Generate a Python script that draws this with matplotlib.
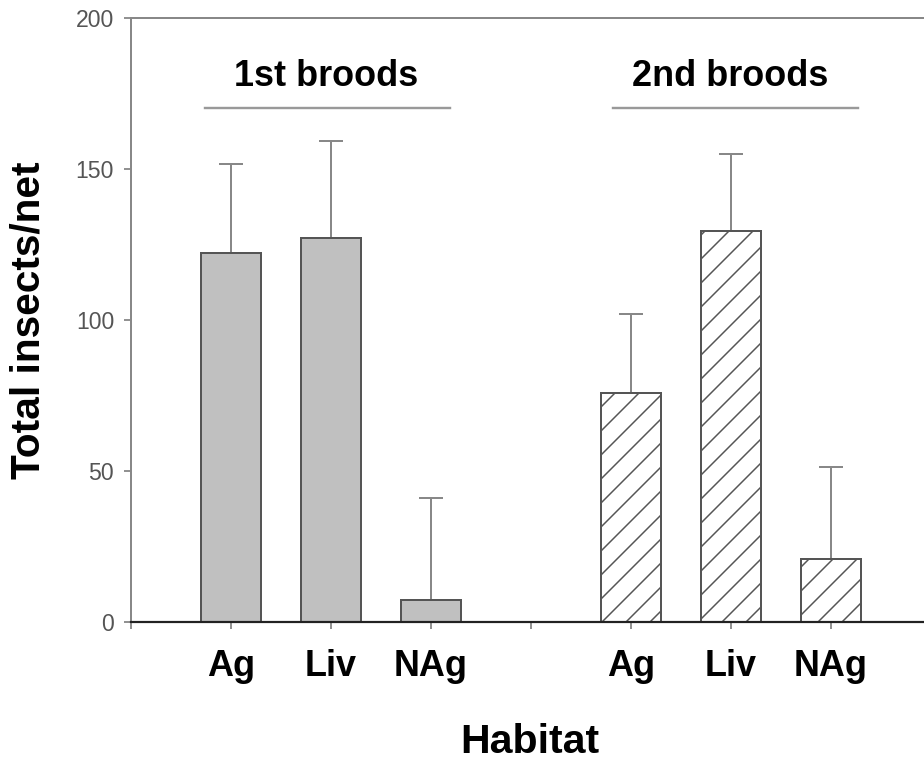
import matplotlib
matplotlib.use("Agg")
import matplotlib.pyplot as plt

# dados
habitats = ["Ag", "Liv", "NAg"]
broods = ["1st broods", "2nd broods"]
media_1 = [122.3, 127.2, 7.3]
erro_1 = [29.4, 32.0, 33.7]
media_2 = [75.7, 129.5, 20.8]
erro_2 = [26.3, 25.5, 30.6]
pos_1 = [1, 2, 3]
pos_2 = [5, 6, 7]

plt.rcParams["font.family"] = ["Liberation Sans", "DejaVu Sans"]
plt.rcParams["hatch.linewidth"] = 0.75

DPI = 144
fig = plt.figure(figsize=(924 / DPI, 763 / DPI), dpi=DPI)
ax = fig.add_axes([131 / 924, 141 / 763, 800 / 924, 604 / 763])

ec = "#555555"
ax.errorbar(pos_1, media_1, yerr=[[0] * 3, erro_1], fmt="none", ecolor="#888888",
            elinewidth=1.0, capsize=6, capthick=1.0, zorder=1)
ax.errorbar(pos_2, media_2, yerr=[[0] * 3, erro_2], fmt="none", ecolor="#888888",
            elinewidth=1.0, capsize=6, capthick=1.0, zorder=1)
ax.bar(pos_1, media_1, width=0.6, color="#c0c0c0", edgecolor=ec, lw=1.0, zorder=2)
ax.bar(pos_2, media_2, width=0.6, color="white", edgecolor=ec, lw=1.0, hatch="//", zorder=2)

# titulos dos grupos + traco
for txt, xc, (x0, x1) in [(broods[0], 1.95, (0.74, 3.19)), (broods[1], 5.99, (4.82, 7.27))]:
    ax.text(xc, 180.5, txt, ha="center", va="center", fontsize=18, weight="bold")
    ax.plot([x0, x1], [170.2, 170.2], color="#999999", lw=1.2, clip_on=False)

ax.set_xlim(0, 8)
ax.set_ylim(0, 200)
ax.set_yticks([0, 50, 100, 150, 200])
ax.set_xticks(range(0, 9))
ax.set_xticklabels([""] + habitats + [""] + habitats + [""])
ax.tick_params(axis="y", direction="out", length=3.5, width=0.8, color="#777777",
               labelsize=11.5, labelcolor="#555555", pad=5)
ax.tick_params(axis="x", direction="out", length=3.5, width=0.8, color="#777777",
               labelsize=18, pad=10)
for lab in ax.get_xticklabels():
    lab.set_fontweight("bold")
for s in ["left", "top", "right"]:
    ax.spines[s].set_color("#888888")
    ax.spines[s].set_linewidth(1.0)
ax.spines["bottom"].set_color("#222222")
ax.spines["bottom"].set_linewidth(1.1)

fig.text(29 / 924, 1 - 320 / 763, "Total insects/net", rotation=90, ha="center", va="center",
         fontsize=20.3, weight="bold")
fig.text(530 / 924, 1 - 742 / 763, "Habitat", ha="center", va="center", fontsize=20.5, weight="bold")

fig.savefig("out.png", dpi=DPI)
